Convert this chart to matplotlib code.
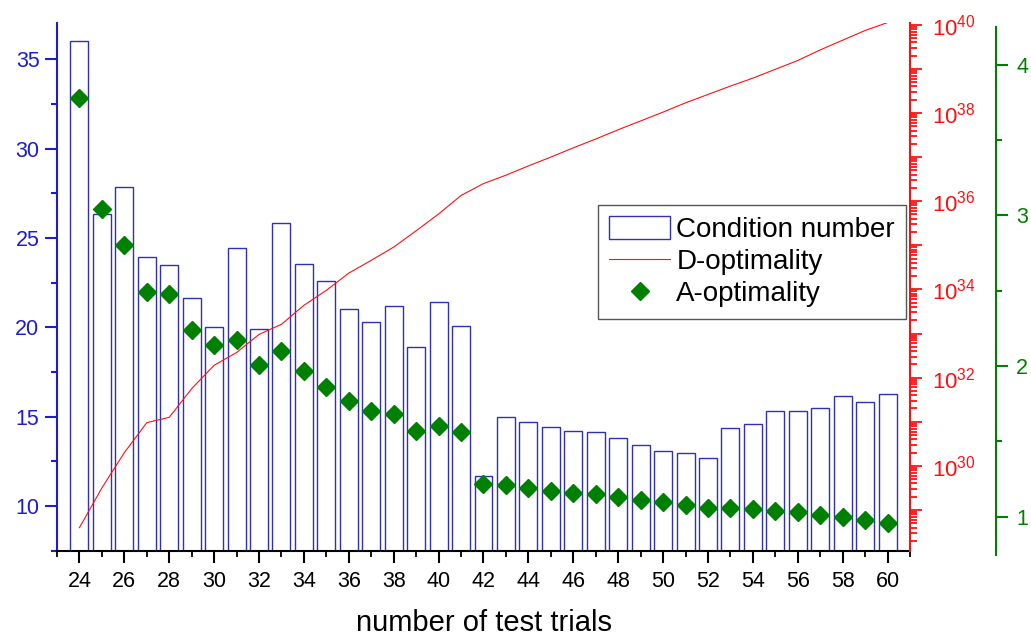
import numpy as np
import matplotlib
matplotlib.use("Agg")
import matplotlib.pyplot as plt
from matplotlib.ticker import MultipleLocator, LogLocator, FuncFormatter

plt.rcParams['font.family'] = ['Liberation Sans', 'DejaVu Sans']
plt.rcParams['mathtext.default'] = 'regular'

#number of test trials
trials = np.arange(24, 61)

#condition number (left blue axis)
cond_number = [36.04, 26.35, 27.87, 23.95, 23.47, 21.63, 20.00, 24.44, 19.90, 25.86,
               23.57, 22.60, 21.04, 20.28, 21.18, 18.87, 21.41, 20.06, 11.68, 14.97,
               14.70, 14.41, 14.20, 14.16, 13.80, 13.41, 13.08, 12.96, 12.70, 14.35,
               14.61, 15.30, 15.30, 15.48, 16.14, 15.82, 16.24]

#D-optimality, read as exponent of 10 (red log axis)
d_opt_exp = [28.60, 29.50, 30.30, 30.98, 31.10, 31.75, 32.28, 32.57, 32.98, 33.21,
             33.64, 33.98, 34.37, 34.66, 34.96, 35.33, 35.71, 36.13, 36.40, 36.59,
             36.80, 37.00, 37.21, 37.41, 37.62, 37.82, 38.02, 38.23, 38.42, 38.61,
             38.79, 38.99, 39.19, 39.43, 39.65, 39.87, 40.05]

#A-optimality (right green axis)
a_opt = [3.78, 3.04, 2.80, 2.49, 2.48, 2.24, 2.14, 2.17, 2.01, 2.10,
         1.97, 1.86, 1.77, 1.70, 1.68, 1.57, 1.60, 1.56, 1.22, 1.21,
         1.19, 1.17, 1.16, 1.15, 1.13, 1.11, 1.10, 1.08, 1.06, 1.06,
         1.05, 1.04, 1.03, 1.01, 1.00, 0.98, 0.96]

BLUE = '#1c1cd0'
RED = '#ff1010'
GREEN = '#008000'
W, H = 1031, 637

fig = plt.figure(figsize=(W / 100, H / 100), dpi=100)
ax1 = fig.add_axes([57 / W, (H - 551) / H, 853 / W, 528 / H])
ax2 = ax1.twinx()
ax3 = fig.add_axes([57 / W, (H - 555) / H, 853 / W, 528 / H])
ax3.patch.set_visible(False)

#bars - condition number
bars = ax1.bar(trials, cond_number, width=0.8, facecolor='none',
               edgecolor='#2f2fb8', linewidth=1.0)
ax1.set_xlim(23, 61)
ax1.set_ylim(7.48, 37.03)
ax1.xaxis.set_major_locator(MultipleLocator(2))
ax1.xaxis.set_minor_locator(MultipleLocator(1))
ax1.yaxis.set_major_locator(MultipleLocator(5))
ax1.yaxis.set_minor_locator(MultipleLocator(2.5))
for s in ['top', 'right']:
    ax1.spines[s].set_visible(False)
ax1.spines['left'].set_color(BLUE)
ax1.spines['left'].set_linewidth(1.5)
ax1.spines['bottom'].set_linewidth(1.5)
ax1.tick_params(axis='x', which='major', length=8.6, width=1.5, labelsize=15.5, pad=6)
ax1.tick_params(axis='x', which='minor', length=4.3, width=1.3)
ax1.tick_params(axis='y', which='both', colors=BLUE, width=1.5, labelsize=15.5, pad=4)
ax1.tick_params(axis='y', which='major', length=8.6)
ax1.tick_params(axis='y', which='minor', length=4.3)
ax1.set_xlabel('number of test trials', fontsize=21, labelpad=12)

#red line - D-optimality on log axis
line, = ax2.plot(trials, 10 ** np.array(d_opt_exp), color=RED, linewidth=0.8)
ax2.set_yscale('log')
ax2.set_ylim(10 ** 28.07, 10 ** 40.04)
ax2.yaxis.set_major_locator(LogLocator(base=10, subs=(1.0,), numticks=60))
ax2.yaxis.set_minor_locator(LogLocator(base=10, subs=np.arange(2, 10), numticks=60))
ax2.yaxis.set_major_formatter(FuncFormatter(
    lambda v, p: '$10^{%d}$' % round(np.log10(v)) if round(np.log10(v)) % 2 == 0 else ''))
for s in ['top', 'left', 'bottom']:
    ax2.spines[s].set_visible(False)
ax2.spines['right'].set_color(RED)
ax2.spines['right'].set_linewidth(1.5)
ax2.tick_params(axis='y', which='both', colors=RED, width=1.3, labelsize=16, pad=7)
ax2.tick_params(axis='y', which='major', length=8.6)
ax2.tick_params(axis='y', which='minor', length=5)

#green diamonds - A-optimality
diam, = ax3.plot(trials, a_opt, 'D', color=GREEN, markersize=9, linestyle='none')
ax3.set_xlim(23, 61)
ax3.set_ylim(0.746, 4.25)
ax3.xaxis.set_visible(False)
for s in ['top', 'left', 'bottom']:
    ax3.spines[s].set_visible(False)
ax3.spines['right'].set_position(('axes', (996 - 57) / 853))
ax3.spines['right'].set_color(GREEN)
ax3.spines['right'].set_linewidth(1.5)
ax3.yaxis.set_ticks_position('right')
ax3.yaxis.set_major_locator(MultipleLocator(1))
ax3.yaxis.set_minor_locator(MultipleLocator(0.5))
ax3.tick_params(axis='y', which='both', colors=GREEN, width=1.5, labelsize=15.5, pad=6)
ax3.tick_params(axis='y', which='major', length=8.6)
ax3.tick_params(axis='y', which='minor', length=4.3)

leg = ax3.legend([bars, line, diam], ['Condition number', 'D-optimality', 'A-optimality'],
                 loc='upper left', bbox_to_anchor=(598 / W, 1 - 205 / H),
                 bbox_transform=fig.transFigure, fontsize=20, fancybox=False,
                 edgecolor='#555555', framealpha=1, borderpad=0.4, labelspacing=0.18,
                 handlelength=2.2, handleheight=0.9, handletextpad=0.22, borderaxespad=0)
leg.get_frame().set_linewidth(1.0)

fig.savefig('out.png', dpi=100)
